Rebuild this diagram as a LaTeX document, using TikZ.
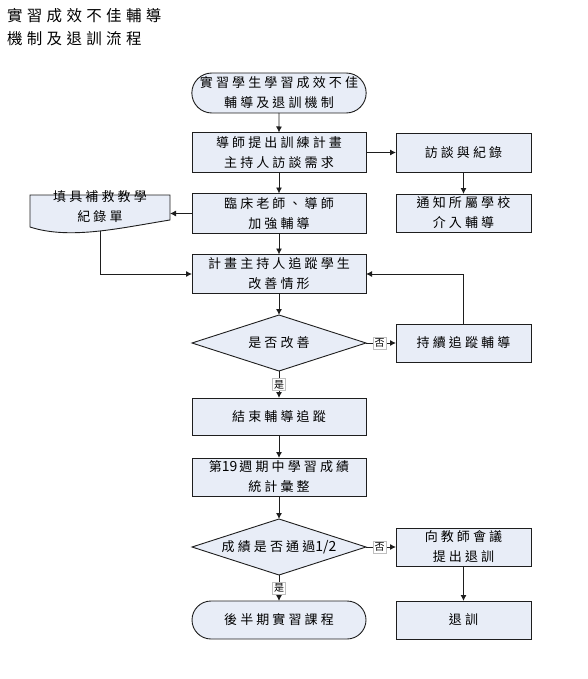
\documentclass[tikz,border=0pt]{standalone}
\usepackage{fontspec}
\newfontfamily\cjk[LetterSpace=24]{Noto Sans CJK TC}
\newfontfamily\cjkt[LetterSpace=28]{Noto Sans CJK TC}
\newfontfamily\cjkn{Noto Sans CJK TC}
\usetikzlibrary{shapes.geometric,shapes.misc,arrows.meta}
\definecolor{boxfill}{RGB}{232,237,247}
\definecolor{edgec}{RGB}{30,30,30}
\begin{document}
\begin{tikzpicture}[x=1pt,y=-1pt,
  every node/.style={inner sep=0pt, outer sep=0pt},
  base/.style={draw=edgec, fill=boxfill, line width=0.9pt, align=center,
    font=\cjk\fontsize{13}{20}\selectfont},
  mainbox/.style={base, rectangle, minimum width=174pt, minimum height=#1},
  sidebox/.style={base, rectangle, minimum width=135pt, minimum height=#1},
  termbox/.style={base, rounded rectangle, minimum width=174pt, minimum height=#1},
  decision/.style={base, diamond, shape aspect=3.1, minimum width=174pt, minimum height=56pt},
  arr/.style={draw=edgec, line width=0.9pt, -{Latex[length=6pt,width=6pt]}},
  lbl/.style={fill=white, draw=black!25, line width=0.5pt, inner sep=1.5pt,
    font=\cjkn\fontsize{10}{12}\selectfont},
]
\useasboundingbox (0,0) rectangle (588,679);

% title
\node[anchor=north west, align=left, font=\cjkt\fontsize{15.5}{23}\selectfont] (title) at (7,8)
  {實習成效不佳輔導\\機制及退訓流程};

% main column
\node[termbox=40pt] (start) at (279,93) {實習學生學習成效不佳\\輔導及退訓機制};
\node[mainbox=40pt] (b2) at (279,152.5) {導師提出訓練計畫\\主持人訪談需求};
\node[mainbox=40pt] (b3) at (279,213.5) {臨床老師、導師\\加強輔導};
\node[mainbox=39pt] (b4) at (279,274) {計畫主持人追蹤學生\\改善情形};
\node[decision] (d1) at (279,343) {是否改善};
\node[mainbox=37pt] (b6) at (279,416.5) {結束輔導追蹤};
\node[mainbox=38pt] (b7) at (279,477) {第{\cjkn\fontsize{14}{20}\selectfont 19}\,週期中學習成績\\統計彙整};
\node[decision] (d2) at (279,547) {成績是否通過{\cjkn\fontsize{14}{20}\selectfont 1/2}};
\node[termbox=38pt] (t2) at (279,620) {後半期實習課程};

% right column
\node[sidebox=39pt] (r1) at (463.5,152.5) {訪談與紀錄};
\node[sidebox=38pt] (r2) at (463.5,213) {通知所屬學校\\介入輔導};
\node[sidebox=38pt] (b5) at (463.5,343) {持續追蹤輔導};
\node[sidebox=38pt] (b8) at (463.5,547) {向教師會議\\提出退訓};
\node[sidebox=38pt] (b9) at (463.5,620) {退訓};

% document shape
\draw[draw=edgec, fill=boxfill, line width=0.9pt]
  (30,195) -- (170,195) -- (170,220)
  .. controls (120,228) and (70,240) .. (30,227) -- cycle;
\node[minimum width=140pt, align=center, font=\cjk\fontsize{13}{20}\selectfont]
  (doc) at (100,207) {填具補救教學\\紀錄單};
\coordinate (docbot) at (100,231);

% connectors
\draw[arr] (start) -- (b2);
\draw[arr] (b2) -- (b3);
\draw[arr] (b3) -- (b4);
\draw[arr] (b4) -- (d1);
\draw[arr] (b2) -- (r1);
\draw[arr] (r1) -- (r2);
\draw[arr] (b3.west) -- (b3.west -| doc.east);
\draw[arr] (docbot) |- (b4.west);
\draw[arr] (d1) -- node[lbl, pos=0.45] {否} (b5);
\draw[arr] (b5.north) |- (b4.east);
\draw[arr] (d1) -- node[lbl] {是} (b6);
\draw[arr] (b6) -- (b7);
\draw[arr] (b7) -- (d2);
\draw[arr] (d2) -- node[lbl, pos=0.45] {否} (b8);
\draw[arr] (b8) -- (b9);
\draw[arr] (d2) -- node[lbl] {是} (t2);
\end{tikzpicture}
\end{document}
